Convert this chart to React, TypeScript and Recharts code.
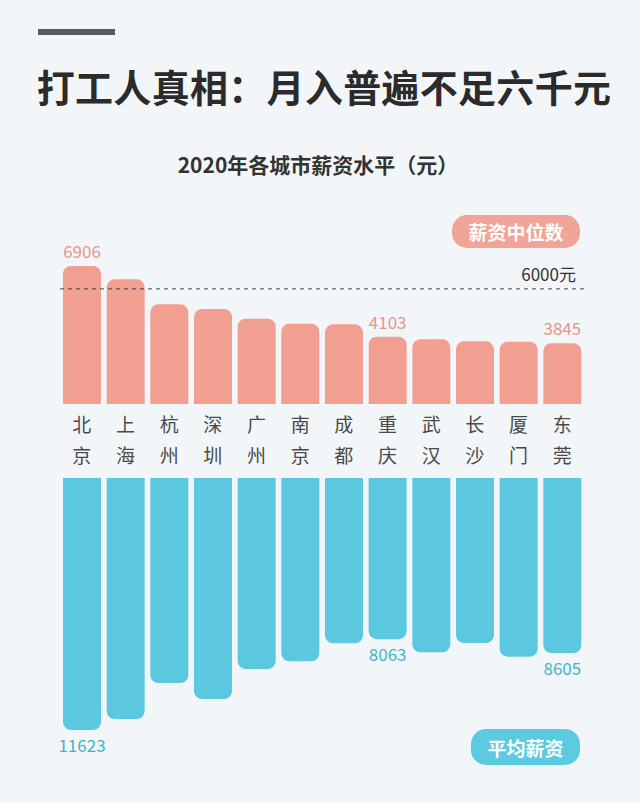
import { BarChart, Bar, XAxis, YAxis, ReferenceLine, LabelList } from "recharts";

const cities = ["北京", "上海", "杭州", "深圳", "广州", "南京", "成都", "重庆", "武汉", "长沙", "厦门", "东莞"];
const medianSalary = [6906, 6379, 5389, 5203, 4820, 4621, 4597, 4103, 4003, 3924, 3910, 3845];
const averageSalary = [11623, 11192, 9781, 10408, 9232, 8931, 8225, 8063, 8578, 8213, 8750, 8605];
// only these cities get a value printed next to the bar
const labeledCities = ["北京", "重庆", "东莞"];
const threshold = 6000;

const data = cities.map((city, i) => ({
  city,
  median: medianSalary[i],
  average: averageSalary[i],
  medianLabel: labeledCities.includes(city) ? medianSalary[i] : null,
  averageLabel: labeledCities.includes(city) ? averageSalary[i] : null,
}));

const PINK = "#f19f91";
const CYAN = "#5cc8e0";
const FONT = '"Noto Sans CJK SC", "Noto Sans", sans-serif';
const MARGIN = { top: 0, right: 56, left: 60, bottom: 0 };

function CityTick({ x, y, payload }: any) {
  const [a, b] = String(payload.value).split("");
  return (
    <g>
      <text x={x} y={y + 28} textAnchor="middle" fill="#4a4a4a" fontSize={19} fontFamily={FONT}>
        {a}
      </text>
      <text x={x} y={y + 59} textAnchor="middle" fill="#4a4a4a" fontSize={19} fontFamily={FONT}>
        {b}
      </text>
    </g>
  );
}

function TopLabel({ x, y, width, value }: any) {
  if (value == null) return null;
  return (
    <text x={x + width / 2} y={y - 8} textAnchor="middle" fill="#e8958a" fontSize={17} fontFamily={FONT}>
      {value}
    </text>
  );
}

function BottomLabel({ x, y, width, height, value }: any) {
  if (value == null) return null;
  const bottom = Math.max(y, y + height);
  return (
    <text x={x + width / 2} y={bottom + 22} textAnchor="middle" fill="#3fb4cb" fontSize={17} fontFamily={FONT}>
      {value}
    </text>
  );
}

const pill = (bg: string): React.CSSProperties => ({
  position: "absolute",
  background: bg,
  color: "#fff",
  fontWeight: 700,
  fontSize: 19,
  borderRadius: 15,
  display: "flex",
  alignItems: "center",
  justifyContent: "center",
});

export default function App() {
  return (
    <div
      style={{
        position: "absolute",
        top: 0,
        left: 0,
        width: 640,
        height: 803,
        background: "#f3f6f9",
        fontFamily: FONT,
        overflow: "hidden",
      }}
    >
      <div style={{ position: "absolute", left: 38, top: 29, width: 77, height: 6, background: "#565c61" }} />
      <div
        style={{
          position: "absolute",
          left: 0,
          width: 648,
          top: 58,
          textAlign: "center",
          fontSize: 38,
          fontWeight: 700,
          color: "#2b2b2b",
          letterSpacing: 0.3,
        }}
      >
        打工人真相：月入普遍不足六千元
      </div>
      <div
        style={{
          position: "absolute",
          left: 0,
          width: 636,
          top: 149,
          textAlign: "center",
          fontSize: 21,
          fontWeight: 700,
          color: "#333",
        }}
      >
        2020年各城市薪资水平（元）
      </div>
      <div style={{ ...pill("#f1a497"), left: 452, top: 215, width: 128, height: 33 }}>薪资中位数</div>
      <div style={{ ...pill("#5ccae0"), left: 471, top: 729, width: 109, height: 36 }}>平均薪资</div>

      <div style={{ position: "absolute", left: 0, top: 200 }}>
        <BarChart width={640} height={278} data={data} margin={MARGIN}>
          <XAxis
            dataKey="city"
            height={74}
            tick={<CityTick />}
            tickLine={false}
            axisLine={false}
            tickSize={0}
            tickMargin={0}
            interval={0}
          />
          <YAxis hide domain={[1440, 9520]} allowDataOverflow />
          <Bar dataKey="median" fill={PINK} barSize={38} radius={[8, 8, 0, 0]} isAnimationActive={false}>
            <LabelList dataKey="medianLabel" content={<TopLabel />} />
          </Bar>
          <ReferenceLine
            y={threshold}
            stroke="#444"
            strokeDasharray="4 4"
            label={{ value: "6000元", position: "insideBottomRight", offset: 8, fill: "#333", fontSize: 17, fontFamily: FONT }}
          />
        </BarChart>
      </div>

      <div style={{ position: "absolute", left: 0, top: 478 }}>
        <BarChart width={640} height={325} data={data} margin={MARGIN}>
          <XAxis dataKey="city" hide />
          <YAxis hide reversed domain={[1745, 14485]} allowDataOverflow />
          <Bar dataKey="average" fill={CYAN} barSize={38} radius={[8, 8, 0, 0]} isAnimationActive={false}>
            <LabelList dataKey="averageLabel" content={<BottomLabel />} />
          </Bar>
        </BarChart>
      </div>
    </div>
  );
}
